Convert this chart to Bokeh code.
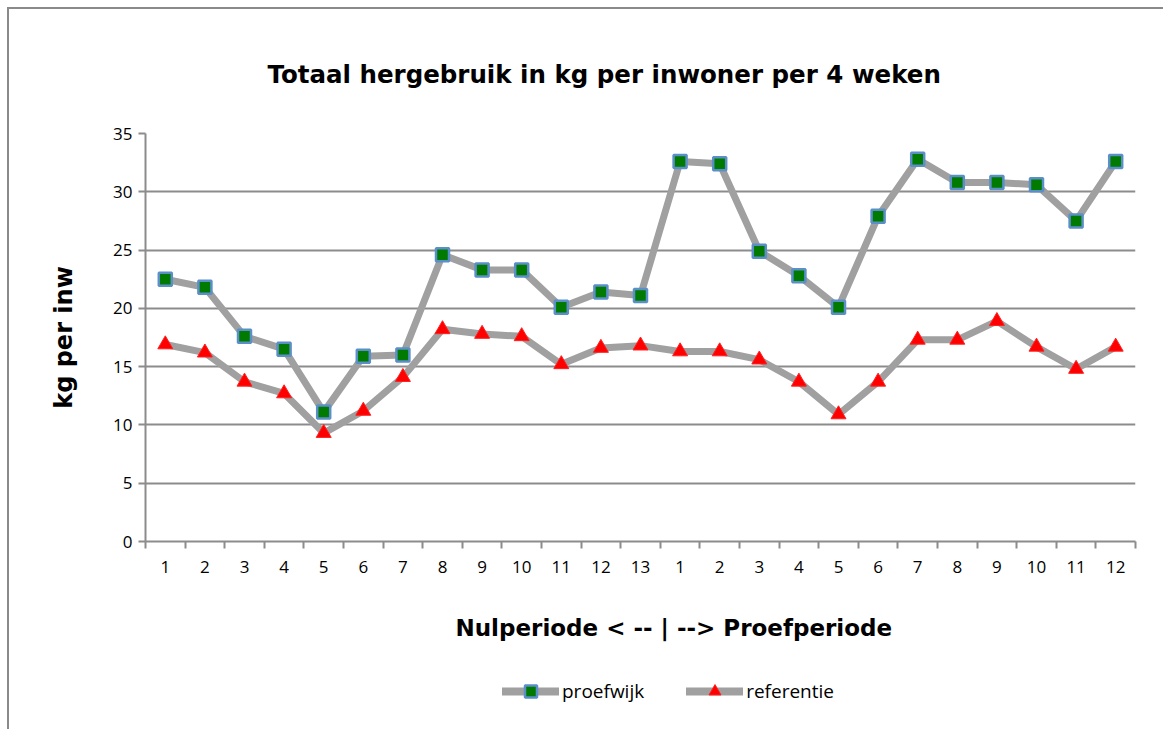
from bokeh.plotting import figure
from bokeh.models import (Range1d, FixedTicker, Title, Legend, LegendItem, ColumnDataSource)
from bokeh.layouts import column
from bokeh.embed import file_html
from bokeh.resources import INLINE

# ---- data ----
x_labels = ["1", "2", "3", "4", "5", "6", "7", "8", "9", "10", "11", "12", "13",
            "1", "2", "3", "4", "5", "6", "7", "8", "9", "10", "11", "12"]
proefwijk = [22.5, 21.8, 17.6, 16.5, 11.1, 15.9, 16.0, 24.6, 23.3, 23.3, 20.1, 21.4, 21.1,
             32.6, 32.4, 24.9, 22.8, 20.1, 27.9, 32.8, 30.8, 30.8, 30.6, 27.5, 32.6]
referentie = [16.9, 16.2, 13.7, 12.7, 9.3, 11.2, 14.1, 18.2, 17.8, 17.6, 15.2, 16.6, 16.8,
              16.3, 16.3, 15.6, 13.7, 10.9, 13.7, 17.3, 17.3, 18.9, 16.7, 14.8, 16.7]
y_ticks = [0, 5, 10, 15, 20, 25, 30, 35]
title_text = "Totaal hergebruik in kg per inwoner per 4 weken"
y_title = "kg per inw"
x_title = "Nulperiode < -- | --> Proefperiode"
series_names = ["proefwijk", "referentie"]

xs = list(range(1, len(x_labels) + 1))
src = ColumnDataSource(dict(x=xs, p=proefwijk, r=referentie))

GRAY = "#8c8c8c"
LINE = "#a0a0a0"
SQ = dict(marker="square", size=13, fill_color="#007a00", line_color="#5b8fc7", line_width=2.5)
TR = dict(marker="triangle", size=15, fill_color="#ff0000", line_color="#ff2020", line_width=1)

p = figure(width=1154, height=668, output_backend="svg", toolbar_location=None,
           x_range=Range1d(0.5, len(xs) + 0.5), y_range=Range1d(0, 35),
           min_border_left=136, min_border_right=28, min_border_top=124, min_border_bottom=136)
p.outline_line_color = None

# axes
p.xaxis.ticker = FixedTicker(ticks=xs, minor_ticks=[i + 0.5 for i in range(0, len(xs) + 1)])
p.xaxis.major_label_overrides = {x: l for x, l in zip(xs, x_labels)}
p.xaxis.major_tick_line_color = None
p.xaxis.minor_tick_line_color = GRAY
p.xaxis.minor_tick_line_width = 2
p.xaxis.minor_tick_out = 7
p.xaxis.minor_tick_in = 0
p.xaxis.axis_line_color = GRAY
p.xaxis.axis_line_width = 2
p.xaxis.major_label_standoff = 12
p.xaxis.major_label_text_font = "Open Sans"
p.xaxis.major_label_text_font_size = "17px"
p.xaxis.major_label_text_color = "black"

p.yaxis.ticker = FixedTicker(ticks=y_ticks, minor_ticks=[])
p.yaxis.axis_line_color = GRAY
p.yaxis.axis_line_width = 2
p.yaxis.major_tick_line_color = GRAY
p.yaxis.major_tick_line_width = 2
p.yaxis.major_tick_out = 7
p.yaxis.major_tick_in = 0
p.yaxis.major_label_standoff = 6
p.yaxis.major_label_text_font = "Open Sans"
p.yaxis.major_label_text_font_size = "17px"
p.yaxis.major_label_text_color = "black"
p.yaxis.axis_label = y_title
p.yaxis.axis_label_standoff = 32
p.yaxis.axis_label_text_font = "DejaVu Sans"
p.yaxis.axis_label_text_font_style = "bold"
p.yaxis.axis_label_text_font_size = "24px"
p.yaxis.axis_label_text_color = "black"

p.xgrid.grid_line_color = None
p.ygrid.grid_line_color = GRAY
p.ygrid.grid_line_width = 2

# series
p.line("x", "p", source=src, line_color=LINE, line_width=7, line_join="round", line_cap="round")
p.scatter("x", "p", source=src, **SQ)
p.line("x", "r", source=src, line_color=LINE, line_width=7, line_join="round", line_cap="round")
p.scatter("x", "r", source=src, **TR)

# titles
p.title.text = title_text
p.title.align = "left"
p.title.offset = 122
p.title.text_font = "DejaVu Sans"
p.title.text_font_style = "bold"
p.title.text_font_size = "24.5px"
p.title.text_color = "black"
p.title.standoff = 90

p.add_layout(Title(text=x_title, align="left", offset=310, text_font="DejaVu Sans",
                   text_font_style="bold", text_font_size="23px", text_color="black",
                   standoff=74), "below")

# legend row (separate small figure, same series drawn outside its visible range)
p2 = figure(width=1154, height=52, output_backend="svg", toolbar_location=None,
            x_range=Range1d(0.5, len(xs) + 0.5), y_range=Range1d(100, 101),
            x_axis_type=None, y_axis_type=None,
            min_border_left=0, min_border_right=0, min_border_top=0, min_border_bottom=0)
p2.outline_line_color = None
p2.grid.grid_line_color = None
la = p2.line("x", "p", source=src, line_color=LINE, line_width=8, line_cap="round")
sa = p2.scatter("x", "p", source=src, **SQ)
lb = p2.line("x", "r", source=src, line_color=LINE, line_width=8, line_cap="round")
sb = p2.scatter("x", "r", source=src, **TR)
legend = Legend(items=[LegendItem(label=series_names[0], renderers=[la, sa]),
                       LegendItem(label=series_names[1], renderers=[lb, sb])],
                orientation="horizontal", location=(357, 23),
                glyph_width=57, glyph_height=30, label_text_font="Open Sans",
                label_text_font_size="19px", label_standoff=3, spacing=42,
                padding=0, margin=0, border_line_color=None, background_fill_alpha=0,
                label_text_color="black")
p2.add_layout(legend)

layout = column(p, p2, styles={"margin-left": "7px", "margin-top": "7px",
                               "border-top": "2px solid #8a8a8a",
                               "border-left": "2px solid #8a8a8a"})
open("out.html", "w").write(file_html(layout, INLINE))
